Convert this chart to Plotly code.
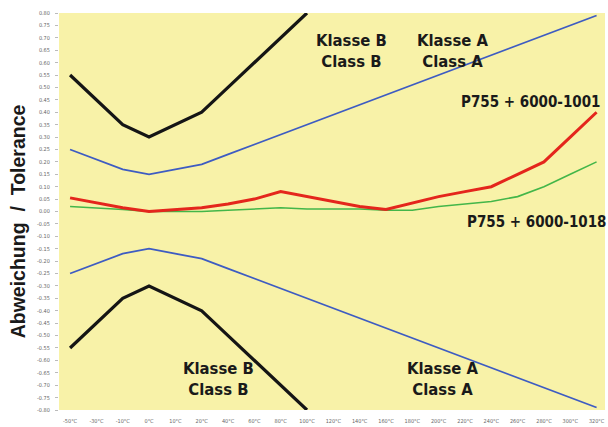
import plotly.graph_objects as go

temps = ["-50°C", "-30°C", "-10°C", "0°C", "10°C", "20°C", "40°C", "60°C", "80°C", "100°C",
         "120°C", "140°C", "160°C", "180°C", "200°C", "220°C", "240°C", "260°C", "280°C", "300°C", "320°C"]

class_a = [0.25, 0.21, 0.17, 0.15, 0.17, 0.19, 0.23, 0.27, 0.31, 0.35,
           0.39, 0.43, 0.47, 0.51, 0.55, 0.59, 0.63, 0.67, 0.71, 0.75, 0.79]
class_b = [0.55, 0.45, 0.35, 0.30, 0.35, 0.40, 0.50, 0.60, 0.70, 0.80]
p_1001 = [0.055, 0.035, 0.015, 0.00, 0.008, 0.015, 0.03, 0.05, 0.08, 0.06,
          0.04, 0.02, 0.008, 0.035, 0.06, 0.08, 0.10, 0.15, 0.20, 0.30, 0.40]
p_1018 = [0.02, 0.015, 0.008, 0.00, 0.00, 0.00, 0.005, 0.01, 0.015, 0.01,
          0.01, 0.01, 0.005, 0.005, 0.02, 0.03, 0.04, 0.06, 0.10, 0.15, 0.20]

yticks = [round(-0.80 + 0.05 * i, 2) for i in range(33)]

xi = list(range(len(temps)))
fig = go.Figure()

def add(y, color, width):
    fig.add_trace(go.Scatter(x=xi[:len(y)], y=y, mode="lines",
                             line=dict(color=color, width=width), showlegend=False, hoverinfo="skip"))

add(class_a, "#3e5cc2", 1.8)
add([-v for v in class_a], "#3e5cc2", 1.8)
add(class_b, "#151515", 3.2)
add([-v for v in class_b], "#151515", 3.2)
add(p_1018, "#43b649", 1.6)
add(p_1001, "#e4261c", 3)

FAM = "DejaVu Sans Condensed, Liberation Sans Narrow, Arial Narrow, Liberation Sans"

def note(text, x, y, size=16, xanchor="center"):
    fig.add_annotation(x=x, y=y, xref="x", yref="y", text="<b>" + text + "</b>", showarrow=False,
                       font=dict(family=FAM, size=size, color="#1a1a1a"),
                       xanchor=xanchor, yanchor="middle", align="center")

note("Klasse B<br>Class B", 10.7, 0.645, 16.5)
note("Klasse A<br>Class A", 14.53, 0.645, 16.5)
note("P755 + 6000-1001", 17.5, 0.443, 15)
note("P755 + 6000-1018", 17.7, -0.044, 15)
note("Klasse B<br>Class B", 5.62, -0.675, 16.5)
note("Klasse A<br>Class A", 14.16, -0.675, 16.5)

fig.add_annotation(x=-0.076, y=0.474, xref="paper", yref="paper",
                   text="<b>Abweichung  /  Tolerance</b>", textangle=-90, showarrow=False,
                   font=dict(family="Liberation Sans, Arial", size=19.5, color="#1a1a1a"),
                   xanchor="center", yanchor="middle")

fig.update_layout(
    width=608, height=427,
    margin=dict(l=59, r=3, t=13, b=17),
    paper_bgcolor="white",
    plot_bgcolor="#f8f2a8",
    xaxis=dict(range=[-0.42, 20.32], tickmode="array", tickvals=xi, ticktext=temps,
               showgrid=False, zeroline=False, showline=False, ticks="", automargin=False,
               ticklabelstandoff=6,
               tickfont=dict(family="DejaVu Sans Condensed, Liberation Sans", size=5.5, color="#666")),
    yaxis=dict(range=[-0.80, 0.80], tickmode="array", tickvals=yticks,
               ticktext=[f"{v:.2f}" for v in yticks], automargin=False,
               showgrid=False, zeroline=False, showline=False, ticks="outside", ticklen=3,
               tickcolor="#bbb", ticklabelstandoff=4,
               tickfont=dict(family="DejaVu Sans Condensed, Liberation Sans", size=5.5, color="#666")),
)

fig.write_html("out.html", config={"displayModeBar": False},
               post_script="document.body.style.margin='0';document.body.style.overflow='hidden';")
